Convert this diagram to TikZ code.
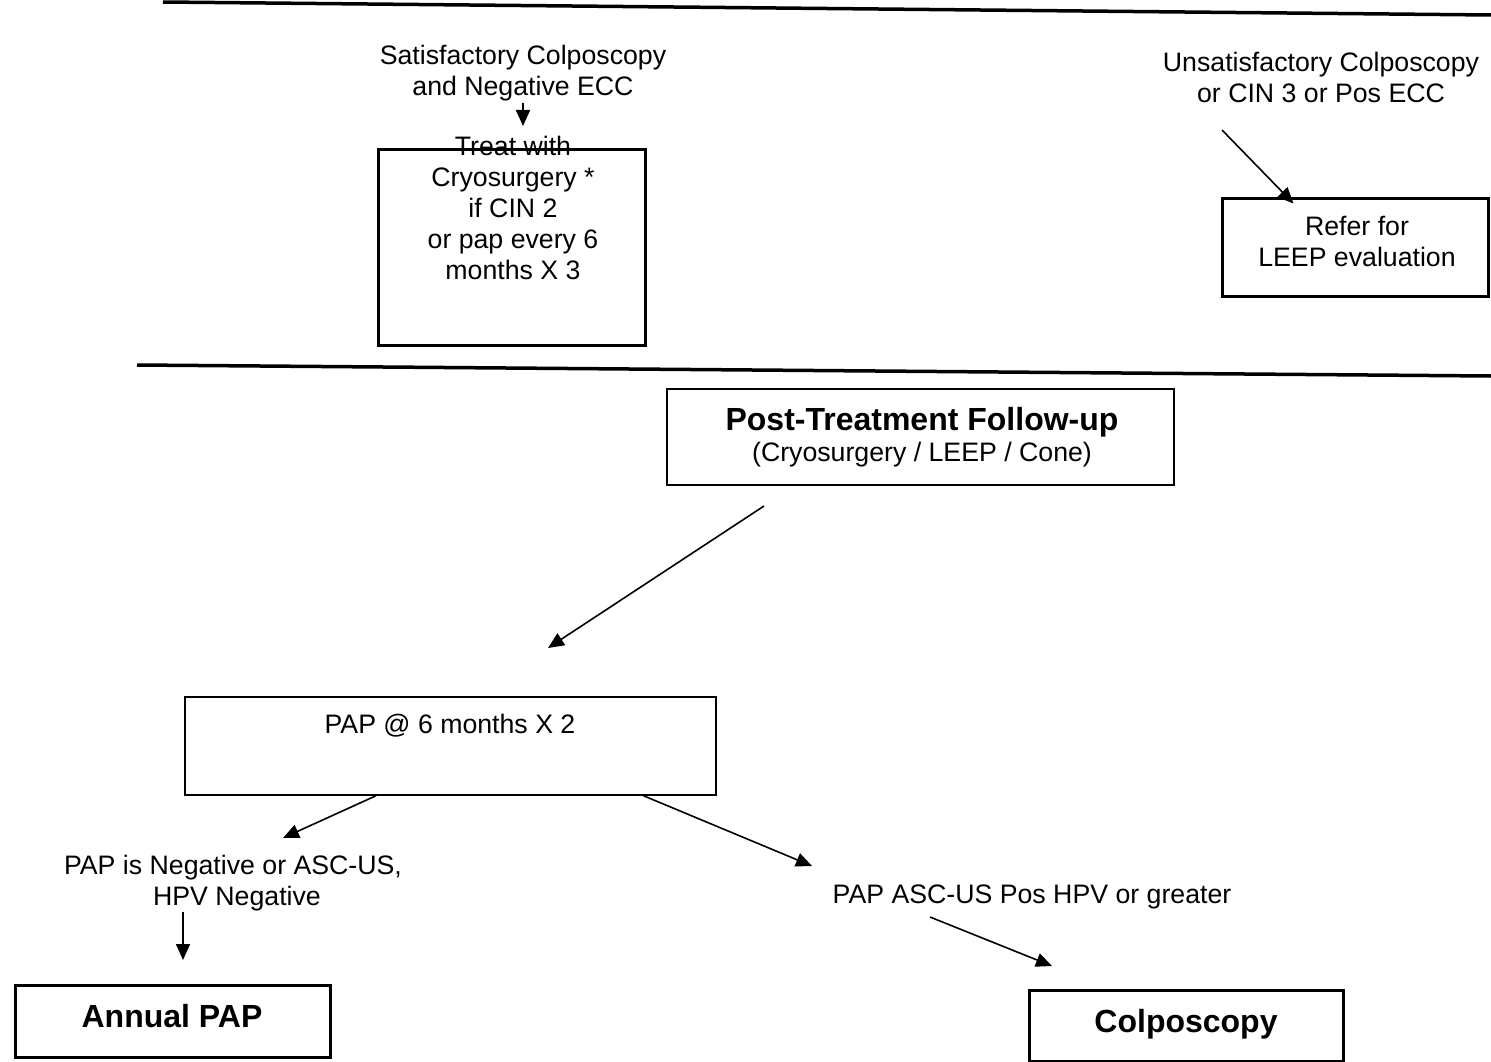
\documentclass[tikz,border=0pt]{standalone}
\usepackage{fontspec}
\setmainfont{Liberation Sans}
\usetikzlibrary{arrows.meta,calc}
\begin{document}
\begin{tikzpicture}[x=1pt,y=-1pt,
  txt/.style={align=center, inner sep=0pt, font=\fontsize{26.7}{31}\selectfont},
  boldtxt/.style={inner sep=0pt, font=\fontsize{32}{36}\selectfont\bfseries},
  thickbox/.style={draw, line width=3pt, inner sep=0pt},
  thinbox/.style={draw, line width=1.5pt, inner sep=0pt},
  divider/.style={line width=3.5pt},
  arr/.style={line width=1.6pt, -{Triangle[length=16pt,width=14pt]}}]
\useasboundingbox (0,0) rectangle (1491,1062);

% section dividers
\coordinate (topL) at (163,2);
\coordinate (topR) at (1491,15);
\coordinate (midL) at (137,365);
\coordinate (midR) at (1491,376);
\draw[divider] (topL) -- (topR);
\draw[divider] (midL) -- (midR);

% satisfactory colposcopy branch
\node[txt, anchor=north] (sat) at (523,45) {Satisfactory Colposcopy\\and Negative ECC};
\node[thickbox, minimum width=267pt, minimum height=195pt] (cryo) at (511.5,247.5) {};
\node[txt, anchor=north] (cryotxt) at (513,136) {Treat with\\Cryosurgery *\\if CIN 2\\or pap every 6\\months X 3};
\coordinate (satTail) at (523,103);
\coordinate (satTip) at (523,126);
\draw[arr] (satTail) -- (satTip);

% unsatisfactory colposcopy branch
\node[txt, anchor=north] (unsat) at (1321,52) {Unsatisfactory Colposcopy\\or CIN 3 or Pos ECC};
\node[thickbox, minimum width=266pt, minimum height=98pt] (leep) at (1355,247) {};
\node[txt, anchor=north] (leeptxt) at (1357,216) {Refer for\\LEEP evaluation};
\coordinate (unsatTail) at (1222,130);
\draw[arr] (unsatTail) -- ($(leep.north west)+(73,7)$);

% post-treatment follow-up
\node[thinbox, minimum width=507pt, minimum height=96pt] (post) at (920.5,437) {};
\node[boldtxt, anchor=base] (posttitle) at (922,430) {Post-Treatment Follow-up};
\node[txt, anchor=base] (postsub) at (922,461) {(Cryosurgery / LEEP / Cone)};

\node[thinbox, minimum width=531pt, minimum height=98pt] (pap) at (450.5,746) {};
\node[txt, anchor=base] (paptxt) at (450,733) {PAP @ 6 months X 2};
\coordinate (postOut) at (764,506);
\coordinate (papIn) at (548,648);
\draw[arr] (postOut) -- (papIn);

% outcomes
\node[txt, anchor=north] (neg) at (233,855) {PAP is Negative or ASC-US,\\\hspace*{8pt}HPV Negative};
\node[txt, anchor=base] (pos) at (1032,903) {PAP ASC-US Pos HPV or greater};
\coordinate (negIn) at (283,838);
\coordinate (posIn) at (812,866);
\draw[arr] ($(pap.south west)!0.36!(pap.south east)$) -- (negIn);
\draw[arr] ($(pap.south west)!0.8625!(pap.south east)$) -- (posIn);

\node[thickbox, minimum width=315pt, minimum height=72pt] (annual) at (172.5,1021) {};
\node[boldtxt, anchor=base] (annualtxt) at (172,1027) {Annual PAP};
\node[thickbox, minimum width=314pt, minimum height=71pt] (colpo) at (1186,1025.5) {};
\node[boldtxt, anchor=base] (colpotxt) at (1186,1032) {Colposcopy};

\coordinate (negOut) at (183,912);
\coordinate (annualIn) at (183,960);
\draw[arr] (negOut) -- (annualIn);
\coordinate (posOut) at (930,917);
\coordinate (colpoIn) at (1052,966);
\draw[arr] (posOut) -- (colpoIn);
\end{tikzpicture}
\end{document}
